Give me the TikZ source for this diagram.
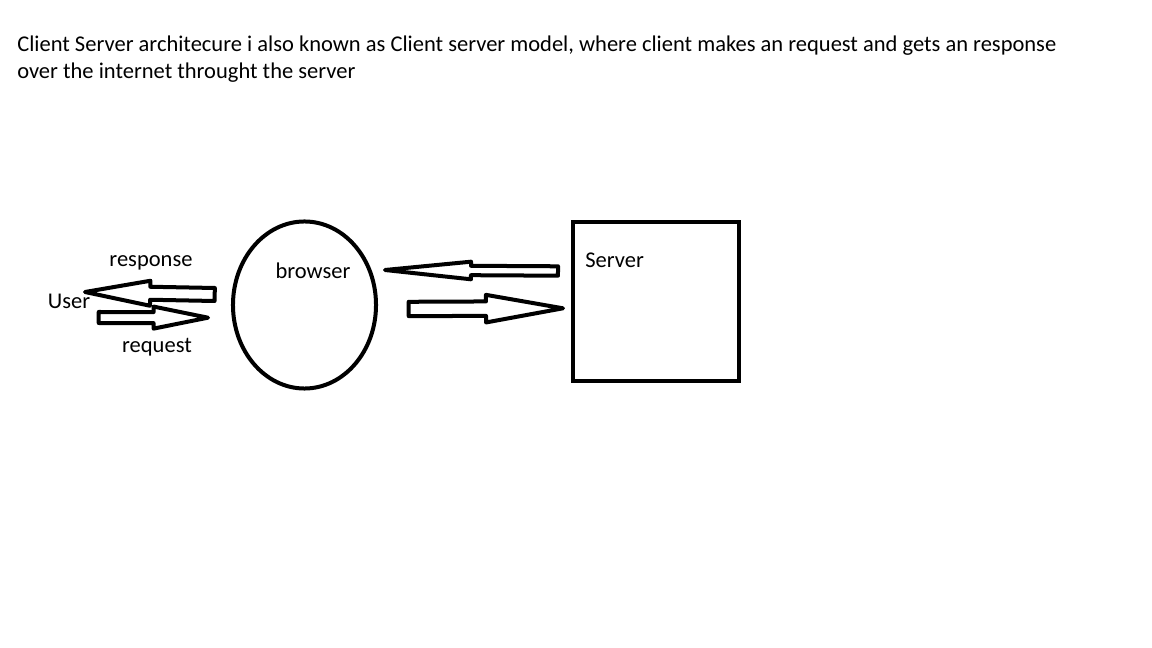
\documentclass[tikz,border=0pt]{standalone}
\usepackage{fontspec}
\setmainfont{Carlito}
\usetikzlibrary{shapes.geometric,calc}

\tikzset{
  outline/.style={draw, line width=0.1cm},
  arrowline/.style={draw, line width=0.1cm, line join=round},
  txt/.style={inner sep=0pt, anchor=base},
}

% hollow block arrow: from, tip, shaft half width, head half width, head length
\newcommand\hollowarrow[5]{%
  \coordinate (hb) at ($(#2)!#5!(#1)$);
  \draw[arrowline] ($(#1)!#3!90:(#2)$) -- ($(hb)!#3!90:(#2)$) -- ($(hb)!#4!90:(#2)$) -- (#2)
    -- ($(hb)!#4!-90:(#2)$) -- ($(hb)!#3!-90:(#2)$) -- ($(#1)!#3!-90:(#2)$) -- cycle;
}

\begin{document}
\begin{tikzpicture}[x=0.025cm, y=-0.025cm, font=\fontsize{16pt}{19pt}\selectfont]
\useasboundingbox (0,0) rectangle (1152,648);

\node[txt, anchor=base west] (intro1) at (17,51.7) {Client Server architecure i also known as Client server model, where client makes an request and gets an response};
\node[txt, anchor=base west] (intro2) at (17,78.3) {over the internet throught the server};

\node[outline, ellipse, minimum width=3.575cm, minimum height=4.175cm, inner sep=0pt] (browser) at (304.5,305) {};
\node[txt] (browsertext) at (313,279) {browser};

\node[outline, minimum width=4.15cm, minimum height=3.975cm] (server) at (656,301.5) {};
\node[txt, anchor=base west] (servertext) at (585,268) {Server};

\node[txt] (user) at (69,308.5) {User};
\node[txt] (resptext) at (151,266.5) {response};
\node[txt] (reqtext) at (157,352.5) {request};

\coordinate (resp from) at (214.7,294.5);
\coordinate (resp to) at (85,292);
\coordinate (req from) at (98.7,317.5);
\coordinate (req to) at (208,317.7);
\coordinate (back from) at (558,271);
\coordinate (back to) at (385,270);
\coordinate (fwd from) at (408.7,309);
\coordinate (fwd to) at (563,308.3);

\hollowarrow{resp from}{resp to}{0.1625cm}{0.3125cm}{1.63cm}
\hollowarrow{req from}{req to}{0.1375cm}{0.275cm}{1.36cm}
\hollowarrow{back from}{back to}{0.1175cm}{0.22cm}{2.15cm}
\hollowarrow{fwd from}{fwd to}{0.18cm}{0.345cm}{1.925cm}

\end{tikzpicture}
\end{document}
